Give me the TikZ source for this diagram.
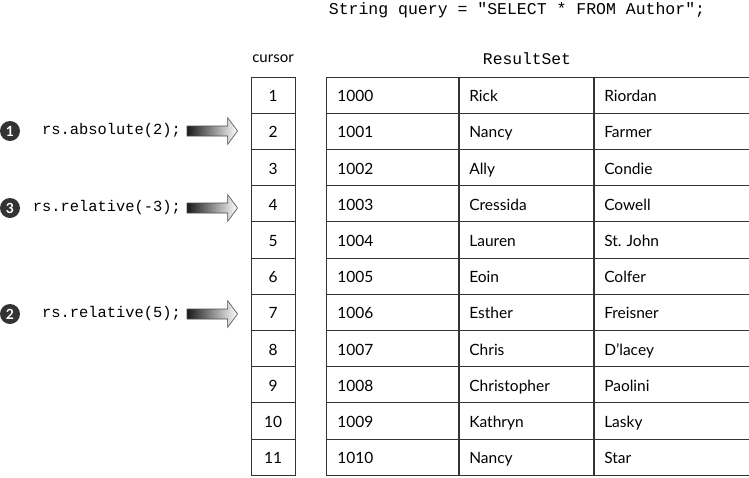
\documentclass[tikz,border=0pt]{standalone}
\usepackage{fontspec}
\setmainfont{Lato}
\setmonofont{Liberation Mono}
\usetikzlibrary{calc, positioning}
\tikzset{
  cell/.style={
    rectangle, draw=black!80, line width=0.9pt, inner sep=0pt,
    minimum width=44pt, minimum height=36.2pt,
    text height=14pt, text depth=1pt,
    font=\fontsize{15.5}{15}\selectfont
  },
  field/.style={
    rectangle, draw=black!80, line width=0.9pt, anchor=west,
    minimum height=36.2pt, align=left, inner ysep=0pt,
    text height=14pt, text depth=1pt,
    font=\fontsize{15.5}{15}\selectfont
  },
  code/.style={
    anchor=east, inner sep=0pt, font=\ttfamily\fontsize{15.4}{15}\selectfont
  },
  badge/.style={
    circle, fill=black!80, text=white, inner sep=0pt, minimum size=20pt,
    font=\bfseries\fontsize{14}{14}\selectfont
  },
  push/.style={
    draw=black!70, line width=0.6pt, left color=black!90, right color=white
  }
}
% shaded block arrow from #1 to #2
\newcommand{\shadearrow}[2]{%
  \path[push] let \p1=(#1), \p2=(#2) in
    (\x1,\y1+5) -- (\x2-10,\y1+5) -- (\x2-10,\y1+13.5) -- (\x2,\y1)
    -- (\x2-10,\y1-13.5) -- (\x2-10,\y1-5) -- (\x1,\y1-5) -- cycle;}

\begin{document}
\begin{tikzpicture}[x=1pt, y=-1pt]
    \useasboundingbox (0,0) rectangle (749,477);

    % query
    \node[font=\ttfamily\fontsize{16.5}{16}\selectfont, inner sep=0pt] (query) at (517,10)
      {String query = "SELECT * FROM Author";};

    % cursor column and result set rows
    \foreach \n/\id/\first/\last [count=\i] in {
        1/1000/Rick/Riordan, 2/1001/Nancy/Farmer, 3/1002/Ally/Condie,
        4/1003/Cressida/Cowell, 5/1004/Lauren/St.\ John, 6/1005/Eoin/Colfer,
        7/1006/Esther/Freisner, 8/1007/Chris/D’lacey,
        9/1008/Christopher/Paolini, 10/1009/Kathryn/Lasky, 11/1010/Nancy/Star} {
      \node[cell] (c\i) at (273, {77+36.2*(\i-0.5)}) {\n};
      \node[field, text width=110pt, inner xsep=11pt] (id\i) at (326, {77+36.2*(\i-0.5)}) {\id};
      \node[field, text width=114pt, inner xsep=10pt] (fn\i) at (id\i.east) {\first};
      \node[field, text width=136pt, inner xsep=10pt] (ln\i) at (fn\i.east) {\last};
    }

    % headings
    \node[font=\fontsize{15}{15}\selectfont, inner sep=0pt] (cursor) at (273,59) {cursor};
    \node[font=\ttfamily\fontsize{16.3}{16}\selectfont, inner sep=0pt] (rset) at (527,59) {ResultSet};

    % moves
    \node[badge] (b1) at (10,131) {1};
    \node[code] (m1) at (181,131) {rs.absolute(2);};
    \node[badge] (b3) at (10,208) {3};
    \node[code] (m3) at (181,208) {rs.relative(-3);};
    \node[badge] (b2) at (10,314) {2};
    \node[code] (m2) at (181,314) {rs.relative(5);};

    \coordinate (t1) at ($(c2.west)+(-13,-1)$);
    \coordinate (t3) at ($(c4.west)+(-13,3)$);
    \coordinate (t2) at ($(c7.west)+(-13,1)$);
    \shadearrow{$(m1.east)+(6,0)$}{t1}
    \shadearrow{$(m3.east)+(6,0)$}{t3}
    \shadearrow{$(m2.east)+(6,0)$}{t2}
\end{tikzpicture}
\end{document}
